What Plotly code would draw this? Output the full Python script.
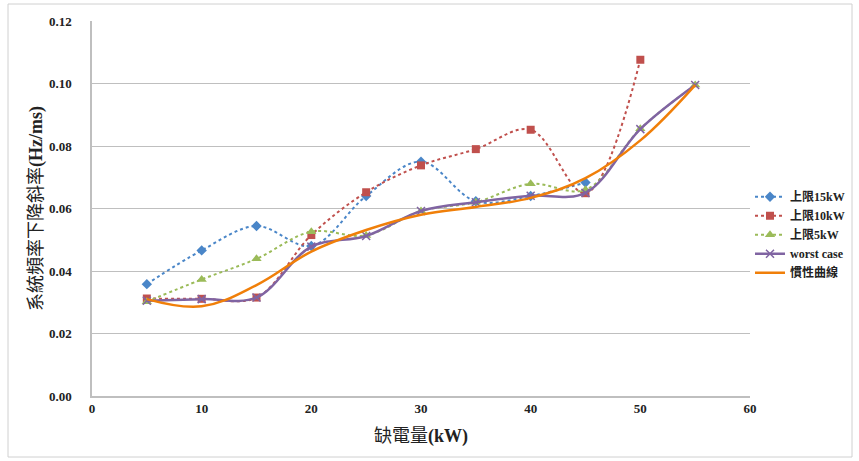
import plotly.graph_objects as go

x_all = [5, 10, 15, 20, 25, 30, 35, 40, 45, 50, 55]

x_15 = [5, 10, 15, 20, 25, 30, 35, 40, 45]
y_15 = [0.0358, 0.0466, 0.0544, 0.0480, 0.0640, 0.0750, 0.0623, 0.0640, 0.0683]

x_10 = [5, 10, 15, 20, 25, 30, 35, 40, 45, 50]
y_10 = [0.0312, 0.0311, 0.0315, 0.0515, 0.0652, 0.0738, 0.0790, 0.0852, 0.0649, 0.1076]

x_5 = x_all
y_5 = [0.0302, 0.0373, 0.0439, 0.0526, 0.0514, 0.0592, 0.0620, 0.0679, 0.0660, 0.0855, 0.0995]

x_wc = x_all
y_wc = [0.0305, 0.0310, 0.0315, 0.0478, 0.0512, 0.0592, 0.0620, 0.0641, 0.0650, 0.0854, 0.0995]

x_in = x_all
y_in = [0.0310, 0.0287, 0.0355, 0.0462, 0.0531, 0.0580, 0.0605, 0.0634, 0.0697, 0.0818, 0.0995]

names = ["上限15kW", "上限10kW", "上限5kW", "worst case", "慣性曲線"]

FONT = "Liberation Serif, 'Times New Roman', 'Noto Sans CJK TC', serif"

fig = go.Figure()
fig.add_trace(go.Scatter(x=x_15, y=y_15, name=names[0], mode="lines+markers",
                         line=dict(color="#4a86c8", width=2, dash="dot", shape="spline", smoothing=1),
                         marker=dict(symbol="diamond", size=8, color="#4a86c8")))
fig.add_trace(go.Scatter(x=x_10, y=y_10, name=names[1], mode="lines+markers",
                         line=dict(color="#c0504d", width=2, dash="dot", shape="spline", smoothing=1),
                         marker=dict(symbol="square", size=8, color="#c0504d")))
fig.add_trace(go.Scatter(x=x_5, y=y_5, name=names[2], mode="lines+markers",
                         line=dict(color="#9bbb59", width=2, dash="dot", shape="spline", smoothing=1),
                         marker=dict(symbol="triangle-up", size=9, color="#9bbb59")))
fig.add_trace(go.Scatter(x=x_wc, y=y_wc, name=names[3], mode="lines+markers",
                         line=dict(color="#8064a2", width=2.5, shape="spline", smoothing=1),
                         marker=dict(symbol="x-thin", size=8, color="#8064a2",
                                     line=dict(color="#8064a2", width=1.5))))
fig.add_trace(go.Scatter(x=x_in, y=y_in, name=names[4], mode="lines",
                         line=dict(color="#f07f09", width=2.5, shape="spline", smoothing=1.1)))

fig.update_layout(
    width=859, height=461,
    margin=dict(l=92, r=109, t=21, b=65, autoexpand=False),
    paper_bgcolor="white", plot_bgcolor="white",
    font=dict(family=FONT, color="#222"),
    legend=dict(x=1.0, y=0.43, xanchor="left", yanchor="middle",
                font=dict(family=FONT, size=12, color="#222", weight="bold"),
                tracegroupgap=0, itemwidth=30, bgcolor="rgba(0,0,0,0)"),
    xaxis=dict(range=[0, 60], tickvals=[0, 10, 20, 30, 40, 50, 60],
               showgrid=False, zeroline=False, showline=True, linecolor="#bfbfbf", linewidth=1.5,
               ticks="", automargin=False,
               tickfont=dict(family=FONT, size=13, color="#222", weight="bold"),
               title=dict(text="缺電量<b>(kW)</b>", font=dict(family=FONT, size=18, color="#222"), standoff=14)),
    yaxis=dict(range=[0, 0.12], tickvals=[0, 0.02, 0.04, 0.06, 0.08, 0.10, 0.12],
               tickformat=".2f", showgrid=True, gridcolor="#bfbfbf", gridwidth=1,
               zeroline=False, showline=True, linecolor="#bfbfbf", linewidth=1.5,
               ticks="", ticklabelstandoff=16, automargin=False,
               tickfont=dict(family=FONT, size=13, color="#222", weight="bold"),
               title=dict(text="系統頻率下降斜率<b>(Hz/ms)</b>", font=dict(family=FONT, size=18, color="#222"), standoff=2)),
    shapes=[dict(type="rect", xref="paper", yref="paper",
                 x0=-84/658, x1=(852-92)/658, y0=-(457-396)/375, y1=(396-4)/375,
                 line=dict(color="#d0d0d0", width=1), fillcolor="rgba(0,0,0,0)", layer="below")],
)

fig.write_html("out.html", config={"displayModeBar": False},
               post_script="document.body.style.margin='0';document.body.style.overflow='hidden';")
